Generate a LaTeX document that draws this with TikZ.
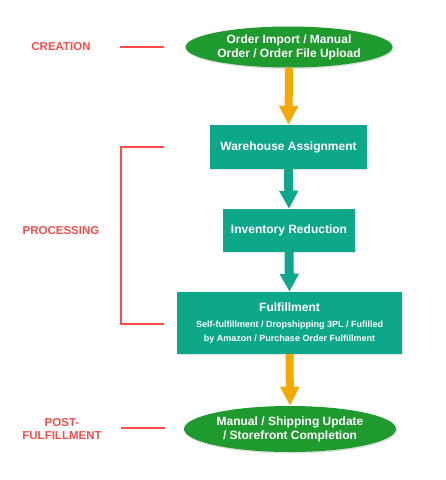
\documentclass[tikz,border=0pt]{standalone}
\usepackage{fontspec}
\setmainfont{Liberation Sans}
\usepackage{xcolor}
\usepackage{tikz}
\usetikzlibrary{arrows.meta,shapes.geometric,shadows}

\definecolor{stagegreen}{HTML}{1F9A2E}
\definecolor{stepteal}{HTML}{0DA78A}
\definecolor{flowgold}{HTML}{F4A900}
\definecolor{phasered}{HTML}{FF4A4A}

\begin{document}
\begin{tikzpicture}[
  x=1pt, y=-1pt,
  font=\bfseries,
  endpoint/.style={ellipse, fill=stagegreen, text=white, inner sep=0pt, align=center, font=\fontsize{12}{14}\selectfont\bfseries, drop shadow={opacity=0.25, shadow xshift=1pt, shadow yshift=-1.5pt}},
  stepbox/.style={rectangle, fill=stepteal, text=white, inner sep=0pt, align=center, font=\fontsize{12}{14}\selectfont\bfseries, drop shadow={opacity=0.2, shadow xshift=1pt, shadow yshift=-1pt}},
  phase/.style={text=phasered, align=center, font=\fontsize{11.5}{13.5}\selectfont\bfseries},
  tick/.style={draw=phasered, line width=1.8pt},
  goldflow/.style={draw=flowgold, line width=8pt, -{Triangle[width=18pt,length=19pt]}, flowgold},
  tealflow/.style={draw=stepteal, line width=9pt, -{Triangle[width=18pt,length=18pt]}, stepteal}
]
\useasboundingbox (0,0) rectangle (446,480);

\node[endpoint, minimum width=207pt, minimum height=41pt] (order) at (289,47) {Order Import / Manual\\Order / Order File Upload};
\node[stepbox, minimum width=157pt, minimum height=44pt] (warehouse) at (288.5,147) {Warehouse Assignment};
\node[stepbox, minimum width=132pt, minimum height=43pt] (inventory) at (289,230.5) {Inventory Reduction};
\node[stepbox, minimum width=225pt, minimum height=62pt] (fulfil) at (289.5,323) {Fulfillment\\[2pt]{\fontsize{9}{11.6}\selectfont Self-fulfillment / Dropshipping 3PL / Fufilled}\\{\fontsize{9}{11.6}\selectfont by Amazon / Purchase Order Fulfillment}};
\node[endpoint, minimum width=212pt, minimum height=46pt] (complete) at (290,429) {Manual / Shipping Update\\/ Storefront Completion};

\node[phase] (creation) at (61,47) {CREATION};
\node[phase] (processing) at (61,231) {PROCESSING};
\node[phase] (postful) at (62,429) {POST-\\FULFILLMENT};

\coordinate (creaA) at (120,47);
\coordinate (creaB) at (164,47);
\coordinate (procTop) at (164,147);
\coordinate (procCorner) at (121,324);
\coordinate (procBot) at (164,324);
\coordinate (postA) at (121,428);
\coordinate (postB) at (165,428);

\draw[tick] (creaA) -- (creaB);
\draw[tick] (procTop) -| (procCorner) -- (procBot);
\draw[tick] (postA) -- (postB);

\draw[goldflow] (order.south) -- (warehouse.north);
\draw[tealflow] (warehouse.south) -- (inventory.north);
\draw[tealflow] (inventory.south) -- (fulfil.north);
\draw[goldflow] (fulfil.south) -- (complete.north);
\end{tikzpicture}
\end{document}
